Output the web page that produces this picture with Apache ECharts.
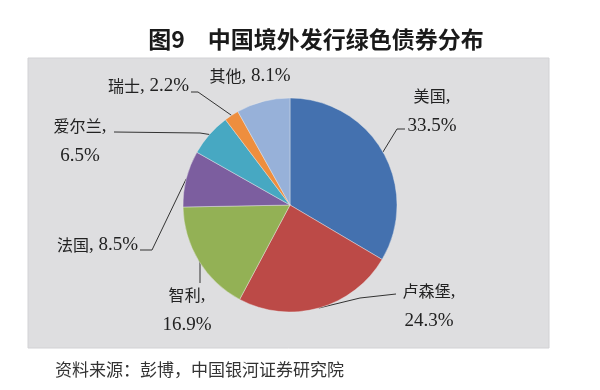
<!DOCTYPE html>
<html>
<head>
<meta charset="utf-8">
<script src="https://cdn.jsdelivr.net/npm/echarts@6/dist/echarts.min.js"></script>
<style>
html,body{margin:0;padding:0;background:#ffffff;}
#chart{width:600px;height:390px;}
</style>
</head>
<body>
<div id="chart"></div>
<script>
// ---- data ----
const categories = ['美国', '卢森堡', '智利', '法国', '爱尔兰', '瑞士', '其他'];
const shares = [33.5, 24.3, 16.9, 8.5, 6.5, 2.2, 8.1];
const colors = ['#4471AF', '#BC4A47', '#93B155', '#7C5E9F', '#47A8C2', '#EE8E3E', '#97B1D9'];
const titleText = '图9　中国境外发行绿色债券分布';
const sourceText = '资料来源：彭博，中国银河证券研究院';

// ---- label layout (positions only) ----
const labelSpecs = [
  { twoLine: true,  x: 432, y: 111, align: 'center', line: [[397, 129], [405, 129]] },
  { twoLine: true,  x: 429, y: 306, align: 'center', line: [[360, 298], [396, 294]] },
  { twoLine: true,  x: 187, y: 310, align: 'center', line: [[200, 262], [200, 283]] },
  { twoLine: false, x: 138, y: 245, align: 'right',  line: [[152, 250], [140, 250]] },
  { twoLine: true,  x: 80,  y: 141, align: 'center', line: [[200, 133], [114, 132]] },
  { twoLine: false, x: 189, y: 86,  align: 'right',  line: [[198, 92], [191, 92]] },
  { twoLine: false, x: 250, y: 76,  align: 'center', line: null }
];

const chart = echarts.init(document.getElementById('chart'), null, { renderer: 'canvas' });

const pieData = categories.map((name, i) => ({
  name: name,
  value: shares[i],
  itemStyle: { color: colors[i] },
  labelLine: { show: !!labelSpecs[i].line }
}));

const option = {
  backgroundColor: '#ffffff',
  animation: false,
  title: {
    text: titleText,
    left: 311,
    top: 23,
    textAlign: 'center',
    textStyle: {
      fontFamily: 'Noto Sans CJK SC',
      fontSize: 23,
      fontWeight: 'bold',
      color: '#1a1a1a'
    }
  },
  graphic: [
    {
      type: 'rect',
      z: -10,
      shape: { x: 28, y: 58, width: 521, height: 290 },
      style: { fill: '#dedee0', stroke: '#d2d2d5', lineWidth: 1 }
    },
    {
      type: 'text',
      left: 55,
      top: 361,
      style: {
        text: sourceText,
        fontFamily: 'Noto Sans CJK SC',
        fontSize: 17,
        fill: '#333333'
      }
    }
  ],
  series: [
    {
      type: 'pie',
      center: [290, 205],
      radius: 107,
      startAngle: 90,
      clockwise: true,
      silent: true,
      itemStyle: { borderColor: 'rgba(235,235,235,0.7)', borderWidth: 0.6 },
      label: {
        show: true,
        position: 'outside',
        color: '#222222',
        formatter: function (p) {
          const s = labelSpecs[p.dataIndex];
          const v = shares[p.dataIndex].toFixed(1) + '%';
          if (s.twoLine) {
            return '{a|' + p.name + '}{b|,}\n{b|' + v + '}';
          }
          return '{a|' + p.name + '}{b|, ' + v + '}';
        },
        rich: {
          a: { fontFamily: 'Noto Sans CJK SC', fontSize: 16, color: '#222222', lineHeight: 30 },
          b: { fontFamily: 'Liberation Serif', fontSize: 19, color: '#222222', lineHeight: 30 }
        }
      },
      labelLine: {
        show: true,
        length: 10,
        length2: 10,
        smooth: false,
        lineStyle: { color: '#333333', width: 1 }
      },
      labelLayout: function (params) {
        const s = labelSpecs[params.dataIndex];
        const out = { x: s.x, y: s.y, align: s.align, verticalAlign: 'middle' };
        if (s.line && params.labelLinePoints && params.labelLinePoints[0]) {
          out.labelLinePoints = [params.labelLinePoints[0], s.line[0], s.line[1]];
        }
        return out;
      },
      data: pieData
    }
  ]
};

chart.setOption(option);
</script>
</body>
</html>
